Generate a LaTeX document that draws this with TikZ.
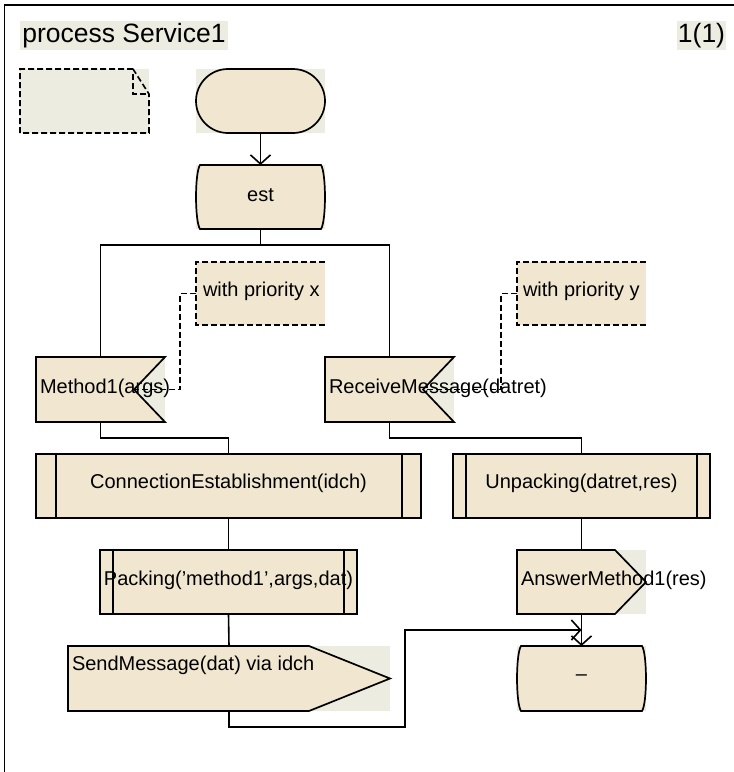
\documentclass[tikz,border=0pt]{standalone}
\usepackage{fontspec}
\setmainfont{Liberation Sans}
\usetikzlibrary{calc,arrows.meta}

\definecolor{symfill}{RGB}{241,231,208}
\definecolor{bgfill}{RGB}{236,236,224}

% SDL state symbol: straight top and bottom, bulging sides
\newcommand\statesym[1]{%
  \draw[outline] ($(#1.north west)+(4,0)$) -- ($(#1.north east)+(-4,0)$)
    .. controls ($(#1.north east)+(1.3,8)$) and ($(#1.south east)+(1.3,-8)$) .. ($(#1.south east)+(-4,0)$)
    -- ($(#1.south west)+(4,0)$)
    .. controls ($(#1.south west)+(-1.3,-8)$) and ($(#1.north west)+(-1.3,8)$) .. cycle;}

\begin{document}
\begin{tikzpicture}[x=1pt,y=-1pt,
  every node/.style={inner sep=0pt, outer sep=0pt},
  sym/.style 2 args={rectangle, minimum width=#1, minimum height=#2},
  bg/.style={fill=bgfill},
  outline/.style={draw=black, line width=1.7pt, fill=symfill, line join=miter},
  bar/.style={draw=black, line width=1.7pt},
  note/.style={draw=black, line width=1.6pt, dash pattern=on 6pt off 3pt},
  flow/.style={draw=black, line width=1.6pt},
  arr/.style={flow, -{Straight Barb[length=9pt,width=20pt,line width=1.6pt]}},
  lbl/.style={font=\fontsize{20}{24}\selectfont},
  ttl/.style={font=\fontsize{26.5}{30}\selectfont, fill=bgfill}
]
\useasboundingbox (0,0) rectangle (734,772);

% diagram frame (right and bottom edges fall outside the page)
\draw[line width=1.6pt] (4.5,772) -- (4.5,5) -- (734,5);

% heading
\node[ttl, anchor=north west, minimum width=208pt, minimum height=29pt] (title) at (20,21) {process Service1};
\node[ttl, anchor=north west, minimum width=49pt, minimum height=29pt] (page) at (677,21) {1(1)};

% symbol frames
\node[sym={129pt}{64pt}, bg] (note)  at (84.5,101) {};
\node[sym={129pt}{64pt}, bg] (start) at (260.5,101) {};
\node[sym={129pt}{64pt}, bg] (est)   at (260.5,197) {};
\node[sym={129pt}{63pt}]     (cx)    at (260.5,293.5) {};
\node[sym={129pt}{63pt}]     (cy)    at (581.5,293.5) {};
\node[sym={129pt}{65pt}, bg] (m1)    at (100.5,389.5) {};
\node[sym={129pt}{65pt}, bg] (rcv)   at (389.5,389.5) {};
\node[sym={385pt}{64pt}]     (conn)  at (228.5,486) {};
\node[sym={257pt}{64pt}]     (unp)   at (581.5,486) {};
\node[sym={257pt}{64pt}]     (pack)  at (228.5,582) {};
\node[sym={129pt}{64pt}, bg] (ans)   at (581.5,582) {};
\node[sym={322pt}{65pt}, bg] (send)  at (229,678.5) {};
\node[sym={129pt}{65pt}, bg] (stop)  at (581.5,678.5) {};

% text symbol with folded corner
\draw[note] ($(note.north east)+(-16,0)$) -- (note.north west) -- (note.south west)
  -- (note.south east) -- ($(note.north east)+(0,25)$) -- cycle;
\draw[note] ($(note.north east)+(-16,5)$) -- ($(note.north east)+(-16,25)$) -- ($(note.north east)+(0,25)$);

% start
\draw[outline, rounded corners=32pt] (start.north west) rectangle (start.south east);

% states
\statesym{est}
\statesym{stop}

% comments
\fill[symfill] (cx.north west) rectangle (cx.south east);
\draw[note] (cx.north east) -- (cx.north west) -- (cx.south west) -- (cx.south east);
\fill[symfill] (cy.north west) rectangle (cy.south east);
\draw[note] (cy.north east) -- (cy.north west) -- (cy.south west) -- (cy.south east);

% inputs
\coordinate (m1in) at ($(m1.east)+(-31,0)$);
\coordinate (rcvin) at ($(rcv.east)+(-31,0)$);
\draw[outline] (m1.north west) -- (m1.north east) -- (m1in) -- (m1.south east) -- (m1.south west) -- cycle;
\draw[outline] (rcv.north west) -- (rcv.north east) -- (rcvin) -- (rcv.south east) -- (rcv.south west) -- cycle;

% procedure calls
\draw[outline] (conn.north west) rectangle (conn.south east);
\draw[bar] ($(conn.north west)+(20,0)$) -- ($(conn.south west)+(20,0)$);
\draw[bar] ($(conn.north east)+(-19,0)$) -- ($(conn.south east)+(-19,0)$);
\draw[outline] (unp.north west) rectangle (unp.south east);
\draw[bar] ($(unp.north west)+(13,0)$) -- ($(unp.south west)+(13,0)$);
\draw[bar] ($(unp.north east)+(-13,0)$) -- ($(unp.south east)+(-13,0)$);
\draw[outline] (pack.north west) rectangle (pack.south east);
\draw[bar] ($(pack.north west)+(13,0)$) -- ($(pack.south west)+(13,0)$);
\draw[bar] ($(pack.north east)+(-13,0)$) -- ($(pack.south east)+(-13,0)$);

% outputs
\draw[outline] (ans.north west) -- ($(ans.north east)+(-31,0)$) -- (ans.east)
  -- ($(ans.south east)+(-31,0)$) -- (ans.south west) -- cycle;
\draw[outline] (send.north west) -- ($(send.north east)+(-81,0)$) -- (send.east)
  -- ($(send.south east)+(-81,0)$) -- (send.south west) -- cycle;

% flow lines
\draw[arr] (start.south) -- (est.north);
\coordinate (fork) at ($(est.south)+(0,16)$);
\draw[flow] (est.south) -- (fork);
\draw[flow] (fork) -| (m1.north);
\draw[flow] (fork) -| (rcv.north);
\draw[flow] (m1.south) -- ++(0,16) -| (conn.north);
\draw[flow] (rcv.south) -- ++(0,16) -| (unp.north);
\draw[flow] (conn.south) -- (pack.north);
\draw[flow] (pack.south) -- (send.north);
\draw[flow] (unp.south) -- (ans.north);
\draw[arr] (ans.south) -- (stop.north);
\coordinate (merge) at ($(ans.south)!0.5!(stop.north)$);
\coordinate (jog) at ($(send.south)+(176,16)$);
\draw[arr] (send.south) |- (jog) |- (merge);

% comment attachments
\draw[note] (cx.west) -- ++(-16,0) |- (m1in);
\draw[note] (cy.west) -- ++(-16,0) |- (rcvin);

% labels
\node[lbl] (t-est) at ($(est)+(0,-2)$) {est};
\node[lbl, anchor=west] (t-cx) at ($(cx.west)+(7,-2)$) {with priority x};
\node[lbl, anchor=west] (t-cy) at ($(cy.west)+(6,-2)$) {with priority y};
\node[lbl, anchor=west] (t-m1) at ($(m1.west)+(4,-1.5)$) {Method1(args)};
\node[lbl, anchor=west] (t-rcv) at ($(rcv.west)+(4,-1.5)$) {ReceiveMessage(datret)};
\node[lbl] (t-conn) at ($(conn)+(0,-2.5)$) {ConnectionEstablishment(idch)};
\node[lbl] (t-unp) at ($(unp)+(0,-2.5)$) {Unpacking(datret,res)};
\node[lbl] (t-pack) at ($(pack)+(0,-2)$) {Packing('method1',args,dat)};
\node[lbl, anchor=west] (t-ans) at ($(ans.west)+(4,-2)$) {AnswerMethod1(res)};
\node[lbl, anchor=west] (t-send) at ($(send.west)+(4,-13)$) {SendMessage(dat) via idch};
\node[lbl] (t-stop) at ($(stop)+(0,-1)$) {–};
\end{tikzpicture}
\end{document}
